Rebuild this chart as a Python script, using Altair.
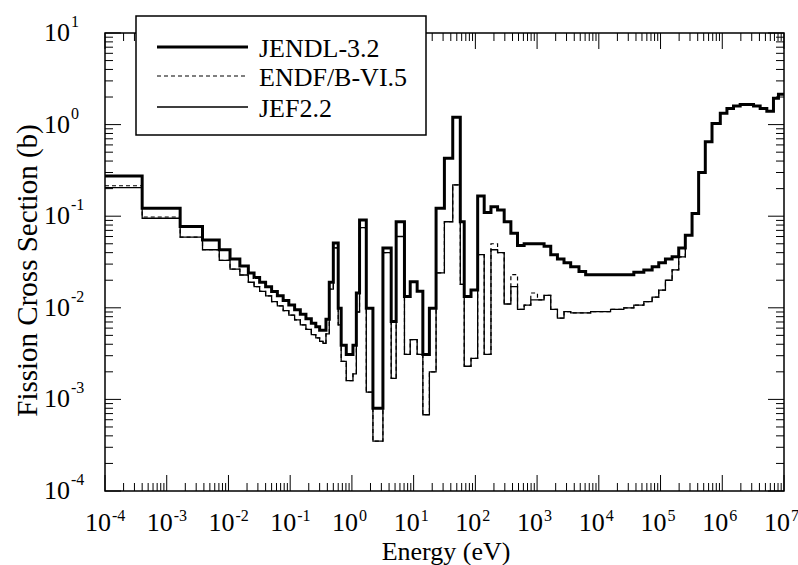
import altair as alt
import pandas as pd

# ---------------- data ----------------
energy_ev = [
    1e-4, 4e-4, 1.65e-3, 3.8e-3, 7.1e-3, 0.0106, 0.0153, 0.021, 0.026, 0.032,
    0.040, 0.050, 0.062, 0.077, 0.095, 0.118, 0.146, 0.18, 0.22, 0.26,
    0.30, 0.34, 0.38, 0.43, 0.50, 0.60, 0.67, 0.81, 1.04, 1.18,
    1.33, 1.71, 2.19, 3.18, 4.33, 5.21, 7.1, 8.8, 11.4, 14.1,
    18.0, 23.1, 31.5, 43.0, 57.0, 66.0, 85.0, 109.0, 139.0, 179.0,
    229.0, 293.0, 376.0, 482.0, 617.0, 791.0, 1014.0, 1298.0, 1664.0, 2136.0,
    2730.0, 3500.0, 4770.0, 6120.0, 7380.0, 10700.0, 15500.0, 25400.0, 36900.0, 53600.0,
    73100.0, 93500.0, 120000.0, 154000.0, 197000.0, 252000.0, 324000.0, 414000.0, 531000.0, 682000.0,
    929000.0, 1.19e6, 1.52e6, 1.95e6, 3.21e6, 4.11e6, 5.27e6, 6.75e6, 8.13e6,
]
energy_end = 1e7

jendl_32 = [
    0.275, 0.122, 0.077, 0.055, 0.043, 0.034, 0.0286, 0.024, 0.0214, 0.019,
    0.017, 0.0151, 0.0135, 0.012, 0.0107, 0.0095, 0.0085, 0.0076, 0.0068, 0.0062,
    0.0057, 0.0057, 0.0075, 0.019, 0.051, 0.0099, 0.0039, 0.0031, 0.0039, 0.0145,
    0.091, 0.0099, 0.0008, 0.045, 0.0071, 0.087, 0.0133, 0.0193, 0.0152, 0.0031,
    0.0099, 0.122, 0.43, 1.2, 0.087, 0.0133, 0.0156, 0.166, 0.11, 0.127,
    0.117, 0.087, 0.065, 0.048, 0.05, 0.05, 0.05, 0.047, 0.038, 0.034,
    0.031, 0.028, 0.0249, 0.023, 0.023, 0.023, 0.023, 0.023, 0.0245, 0.0258,
    0.028, 0.031, 0.034, 0.036, 0.045, 0.062, 0.107, 0.30, 0.65, 1.03,
    1.33, 1.5, 1.6, 1.66, 1.6, 1.5, 1.4, 1.94, 2.15,
]

jef_22 = [
    0.205, 0.095, 0.059, 0.043, 0.033, 0.0265, 0.0228, 0.019, 0.017, 0.0151,
    0.0135, 0.0117, 0.0105, 0.0093, 0.0083, 0.0074, 0.0065, 0.0058, 0.0051, 0.0047,
    0.0043, 0.0041, 0.0052, 0.016, 0.045, 0.0065, 0.0026, 0.0016, 0.0019, 0.009,
    0.075, 0.0012, 0.00035, 0.040, 0.0017, 0.06, 0.0031, 0.0045, 0.0031, 0.00068,
    0.002, 0.024, 0.087, 0.22, 0.018, 0.0023, 0.0028, 0.038, 0.0031, 0.043,
    0.040, 0.011, 0.017, 0.0096, 0.0107, 0.0122, 0.0122, 0.0137, 0.0096, 0.0077,
    0.0091, 0.0088, 0.0088, 0.0088, 0.0091, 0.0091, 0.0096, 0.010, 0.0107, 0.0117,
    0.0131, 0.0156, 0.020, 0.026, 0.036, 0.062, 0.107, 0.30, 0.65, 1.03,
    1.33, 1.5, 1.6, 1.66, 1.6, 1.5, 1.4, 1.94, 2.15,
]

endf_b65 = [
    0.215, 0.098, 0.059, 0.043, 0.033, 0.0265, 0.0228, 0.019, 0.017, 0.0151,
    0.0135, 0.0117, 0.0105, 0.0093, 0.0083, 0.0074, 0.0065, 0.0058, 0.0051, 0.0047,
    0.0043, 0.0041, 0.0052, 0.016, 0.045, 0.0065, 0.0026, 0.0016, 0.0019, 0.009,
    0.075, 0.0012, 0.00035, 0.040, 0.0017, 0.06, 0.0031, 0.0045, 0.0031, 0.00068,
    0.002, 0.024, 0.087, 0.22, 0.018, 0.0023, 0.0028, 0.038, 0.0031, 0.050,
    0.040, 0.011, 0.023, 0.0096, 0.0107, 0.0145, 0.0122, 0.0137, 0.0096, 0.0077,
    0.0091, 0.0088, 0.0088, 0.0088, 0.0091, 0.0091, 0.0096, 0.010, 0.0107, 0.0117,
    0.0131, 0.0156, 0.020, 0.026, 0.036, 0.062, 0.107, 0.30, 0.65, 1.03,
    1.33, 1.5, 1.6, 1.66, 1.6, 1.5, 1.4, 1.94, 2.15,
]

series_names = ["JENDL-3.2", "ENDF/B-VI.5", "JEF2.2"]

x_major = [1e-4, 1e-3, 1e-2, 1e-1, 1e0, 1e1, 1e2, 1e3, 1e4, 1e5, 1e6, 1e7]
x_exps = ["-4", "-3", "-2", "-1", "0", "1", "2", "3", "4", "5", "6", "7"]
y_major = [1e-4, 1e-3, 1e-2, 1e-1, 1e0, 1e1]
y_exps = ["-4", "-3", "-2", "-1", "0", "1"]

# ---------------- tables ----------------
data_by_series = {"JENDL-3.2": jendl_32, "ENDF/B-VI.5": endf_b65, "JEF2.2": jef_22}
rows = []
for name in series_names:
    vals = data_by_series[name]
    for e, v in zip(energy_ev, vals):
        rows.append({"E": e, "xs": v, "series": name})
    rows.append({"E": energy_end, "xs": vals[-1], "series": name})
df = pd.DataFrame(rows)

x_minor = [k * d for d in x_major[:-1] for k in range(2, 10)]
y_minor = [k * d for d in y_major[:-1] for k in range(2, 10)]
xmaj_df = pd.DataFrame({"E": x_major, "exp": x_exps})
ymaj_df = pd.DataFrame({"v": y_major, "exp": y_exps})
xmin_df = pd.DataFrame({"E": x_minor})
ymin_df = pd.DataFrame({"v": y_minor})
legend_df = pd.DataFrame({"series": series_names})

W, H = 679, 458
FONT = "Liberation Serif, Times New Roman, Times, DejaVu Serif, serif"

xscale = alt.Scale(type="log", domain=[1e-4, 1e7], nice=False)
yscale = alt.Scale(type="log", domain=[1e-4, 10], nice=False)

x_axis = alt.Axis(title="Energy (eV)", labels=False, ticks=False, domain=False, grid=False,
                  titleFont=FONT, titleFontSize=26, titleFontWeight="normal", titleColor="black",
                  titleBaseline="alphabetic", titleAlign="center", titleX=W / 2 + 1, titleY=68)
y_axis = alt.Axis(title="Fission Cross Section (b)", labels=False, ticks=False, domain=False, grid=False,
                  titleFont=FONT, titleFontSize=29, titleFontWeight="normal", titleColor="black",
                  titleBaseline="alphabetic", titleAlign="center", titleAngle=270,
                  titleX=-69, titleY=237)

X = alt.X("E:Q", scale=xscale, axis=x_axis)
Y = alt.Y("xs:Q", scale=yscale, axis=y_axis)

styles = {
    "JENDL-3.2": {"strokeWidth": 3.0, "strokeDash": [1, 0]},
    "ENDF/B-VI.5": {"strokeWidth": 1.2, "strokeDash": [4, 3]},
    "JEF2.2": {"strokeWidth": 1.3, "strokeDash": [1, 0]},
}


def line_layer(name):
    st = styles[name]
    return alt.Chart(df).transform_filter(alt.datum.series == name).mark_line(
        interpolate="step-after", strokeJoin="miter", strokeCap="butt", color="black",
        strokeWidth=st["strokeWidth"], strokeDash=st["strokeDash"],
    ).encode(x=X, y=Y)


lines = [line_layer("ENDF/B-VI.5"), line_layer("JEF2.2"), line_layer("JENDL-3.2")]

XT = alt.X("E:Q", scale=xscale, axis=x_axis)
YT = alt.Y("v:Q", scale=yscale, axis=y_axis)


def xticks(data, length):
    base = alt.Chart(data).mark_rule(color="black", strokeWidth=1)
    return [
        base.encode(x=XT, y=alt.value(H), y2=alt.value(H - length)),
        base.encode(x=XT, y=alt.value(0), y2=alt.value(length)),
    ]


def yticks(data, length):
    base = alt.Chart(data).mark_rule(color="black", strokeWidth=1)
    return [
        base.encode(y=YT, x=alt.value(0), x2=alt.value(length)),
        base.encode(y=YT, x=alt.value(W), x2=alt.value(W - length)),
    ]


ticks = xticks(xmin_df, 8) + xticks(xmaj_df, 16) + yticks(ymin_df, 8) + yticks(ymaj_df, 16)

xlabels = [
    alt.Chart(xmaj_df).mark_text(text="10", align="right", baseline="alphabetic", font=FONT, fontSize=26,
                                 dx=6, color="black").encode(x=XT, y=alt.value(H + 40)),
    alt.Chart(xmaj_df).mark_text(align="left", baseline="alphabetic", font=FONT, fontSize=16,
                                 dx=7, color="black").encode(x=XT, y=alt.value(H + 30), text="exp:N"),
]
ylabels = [
    alt.Chart(ymaj_df).mark_text(text="10", align="right", baseline="alphabetic", font=FONT, fontSize=26,
                                 dy=8, color="black").encode(y=YT, x=alt.value(-35)),
    alt.Chart(ymaj_df).mark_text(align="left", baseline="alphabetic", font=FONT, fontSize=16,
                                 dy=-6, color="black").encode(y=YT, x=alt.value(-34), text="exp:N"),
]

# ---------------- legend box (drawn as marks) ----------------
legend_rows_y = {"JENDL-3.2": 14, "ENDF/B-VI.5": 43, "JEF2.2": 74}
legend_layers = [
    alt.Chart(pd.DataFrame({"b": [0]})).mark_rect(fill="white", stroke="black", strokeWidth=1.5).encode(
        x=alt.value(31), x2=alt.value(321), y=alt.value(-17), y2=alt.value(102)
    )
]
for name in series_names:
    st = styles[name]
    ly = legend_rows_y[name]
    sub = alt.Chart(legend_df).transform_filter(alt.datum.series == name)
    legend_layers.append(
        sub.mark_rule(color="black", strokeWidth=st["strokeWidth"] + (0.2 if name == "JENDL-3.2" else 0),
                      strokeDash=st["strokeDash"], strokeCap="butt").encode(
            x=alt.value(52), x2=alt.value(143), y=alt.value(ly), y2=alt.value(ly))
    )
    legend_layers.append(
        sub.mark_text(align="left", baseline="alphabetic", font=FONT, fontSize=26, color="black").encode(
            x=alt.value(154), y=alt.value(ly + 10), text="series:N")
    )

chart = alt.layer(*ticks, *xlabels, *ylabels, *lines, *legend_layers).properties(
    width=W, height=H,
    autosize=alt.AutoSizeParams(type="none"),
    padding={"left": 105, "top": 33, "right": 14, "bottom": 74},
    background="white",
).configure_view(stroke="black", strokeWidth=1.5)

chart.save("out.html", embed_options={"renderer": "svg", "actions": False})
